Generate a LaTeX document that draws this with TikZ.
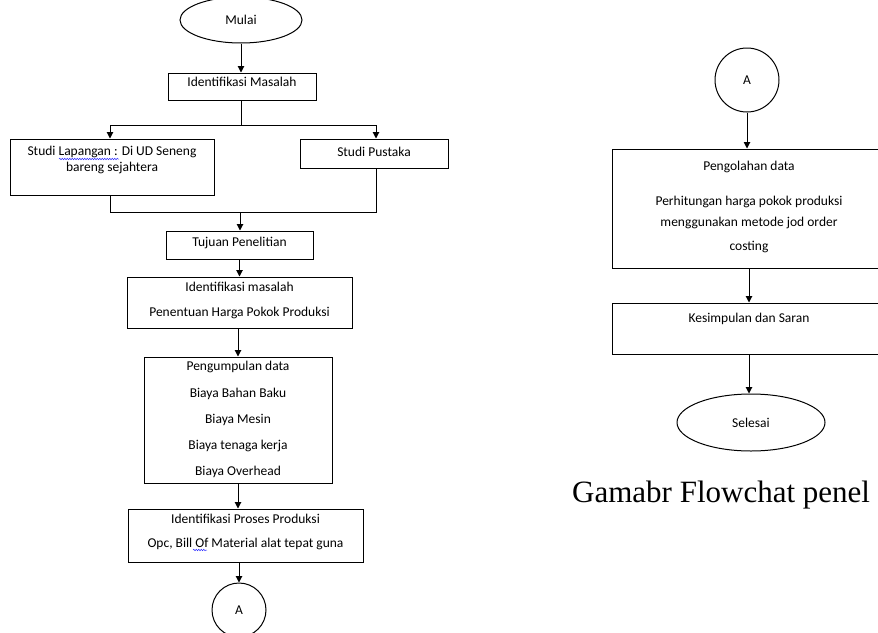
\documentclass[tikz,border=0pt]{standalone}
\usepackage{fontspec}
\setmainfont{Carlito}
\newfontfamily\capfont{Liberation Serif}
\usetikzlibrary{shapes.geometric,arrows.meta,decorations.pathmorphing}

\begin{document}
\begin{tikzpicture}[x=1pt,y=-1pt,
  box/.style={rectangle, draw, line width=1pt, inner sep=0pt},
  oval/.style={ellipse, draw, line width=1pt, inner sep=0pt, font=\fontsize{13.5}{16}\selectfont},
  txt/.style={inner sep=0pt, font=\fontsize{13.5}{16}\selectfont},
  flow/.style={line width=1pt, -{Triangle[length=6.5pt,width=6.5pt]}},
  joint/.style={line width=1pt},
  wavy/.style={blue!80!white, line width=0.5pt, decorate, decoration={snake, segment length=2.5pt, amplitude=0.8pt}}]

\useasboundingbox (0,0) rectangle (878,632);
\clip (0,0) rectangle (878,632);

% left column
\node [oval, minimum width=122pt, minimum height=46pt] (mulai) at (241,20) {Mulai};
\node [box, minimum width=148pt, minimum height=27pt] (idm) at (242,86.5) {};
\node [txt] at (242,82) {Identifikasi Masalah};

\node [box, minimum width=204pt, minimum height=56pt] (lap) at (112,167) {};
\node [txt] at (112,152) {Studi Lapangan : Di UD Seneng};
\node [txt] at (112,168) {bareng sejahtera};
\draw [wavy] (59,159) -- (119,159);

\node [box, minimum width=148pt, minimum height=29pt] (pus) at (374,153.5) {};
\node [txt] at (374,152) {Studi Pustaka};

\node [box, minimum width=147pt, minimum height=28pt] (tuj) at (239.5,245) {};
\node [txt] at (239.5,243) {Tujuan Penelitian};

\node [box, minimum width=225pt, minimum height=51pt] (idm2) at (239.5,302.5) {};
\node [txt] at (239.5,287) {Identifikasi masalah};
\node [txt] at (239.5,313) {Penentuan Harga Pokok Produksi};

\node [box, minimum width=188pt, minimum height=126pt] (data) at (238,420) {};
\node [txt] at (238,367) {Pengumpulan data};
\node [txt] at (238,394) {Biaya Bahan Baku};
\node [txt] at (238,420) {Biaya Mesin};
\node [txt] at (238,446) {Biaya tenaga kerja};
\node [txt] at (238,472) {Biaya Overhead};

\node [box, minimum width=235pt, minimum height=53pt] (pro) at (245.5,535.5) {};
\node [txt] at (245.5,519) {Identifikasi Proses Produksi};
\node [txt] at (245.5,544) {Opc, Bill Of Material alat tepat guna};
\draw [wavy] (193,550) -- (207,550);

\node [oval, circle, minimum size=54pt] (a1) at (239,610) {A};

% right column
\node [oval, circle, minimum size=64pt] (a2) at (747,80) {A};

\node [box, minimum width=274pt, minimum height=119pt] (olah) at (749,208.5) {};
\node [txt] at (749,167) {Pengolahan data};
\node [txt] at (749,202) {Perhitungan harga pokok produksi};
\node [txt] at (749,223) {menggunakan metode jod order};
\node [txt] at (749,247) {costing};

\node [box, minimum width=274pt, minimum height=51pt] (kes) at (749,328.5) {};
\node [txt] at (749,319) {Kesimpulan dan Saran};

\node [oval, minimum width=148pt, minimum height=57pt] (sel) at (751,422.5) {Selesai};

\node [anchor=base west, inner sep=0pt, font=\capfont\fontsize{31}{36}\selectfont] (cap) at (572,502) {Gamabr Flowchat penel};

% connectors
\coordinate (split) at (241,125);
\coordinate (splitL) at (110,125);
\coordinate (splitR) at (376,125);
\coordinate (mergeL) at (110,212);
\coordinate (mergeR) at (376,212);
\coordinate (merge) at (240,212);

\draw [flow] (mulai) -- (mulai |- idm.north);
\draw [joint] (split |- idm.south) -- (split);
\draw [joint] (splitL) -- (splitR);
\draw [flow] (splitL) -- (splitL |- lap.north);
\draw [flow] (splitR) -- (splitR |- pus.north);
\draw [joint] (mergeL |- lap.south) -- (mergeL) -- (mergeR) -- (mergeR |- pus.south);
\draw [flow] (merge) -- (merge |- tuj.north);
\draw [flow] (tuj.south) -- (tuj.south |- idm2.north);
\draw [flow] (data.north |- idm2.south) -- (data.north);
\draw [flow] (data.south) -- (data.south |- pro.north);
\draw [flow] (a1.north |- pro.south) -- (a1.north);

\draw [flow] (a2.south) -- (a2.south |- olah.north);
\draw [flow] (olah.south) -- (kes.north);
\draw [flow] (kes.south) -- (kes.south |- sel.north);
\end{tikzpicture}
\end{document}
